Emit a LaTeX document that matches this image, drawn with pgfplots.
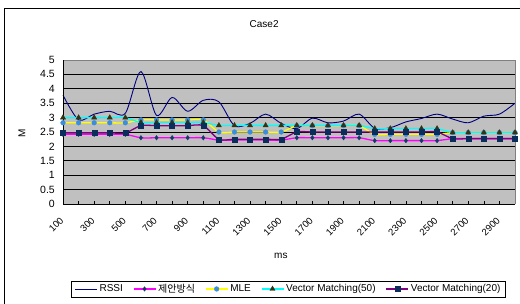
\documentclass[border=0pt]{standalone}
\usepackage{fontspec}
\setmainfont{Liberation Sans}
\newfontfamily\kr{Noto Sans CJK KR}
\usepackage{pgfplots}
\usepackage{pgfplotstable}
\pgfplotsset{compat=1.18}
\definecolor{bggray}{HTML}{C0C0C0}
\definecolor{rssic}{HTML}{000080}
\definecolor{propc}{HTML}{FF00FF}
\definecolor{propm}{HTML}{123A6A}
\definecolor{mlec}{HTML}{FFFF00}
\definecolor{mlem}{HTML}{3A8EDB}
\definecolor{vmac}{HTML}{00FFFF}
\definecolor{vmam}{HTML}{33330F}
\definecolor{vmbc}{HTML}{800080}
\definecolor{vmbm}{HTML}{0B2D5C}
\definecolor{framec}{HTML}{808080}

\pgfplotstableread{
x    rssi prop mle  vma  vmb
100  3.78 2.42 2.82 3.00 2.47
200  2.92 2.42 2.82 3.00 2.47
300  3.12 2.42 2.82 3.00 2.47
400  3.22 2.42 2.82 3.00 2.47
500  3.15 2.42 2.82 3.00 2.47
600  4.60 2.30 2.92 2.83 2.72
700  3.08 2.30 2.92 2.83 2.72
800  3.70 2.30 2.92 2.83 2.72
900  3.22 2.30 2.92 2.83 2.72
1000 3.60 2.30 2.92 2.83 2.72
1100 3.55 2.22 2.50 2.73 2.25
1200 2.72 2.22 2.50 2.73 2.25
1300 2.80 2.22 2.50 2.73 2.25
1400 3.12 2.22 2.50 2.73 2.25
1500 2.80 2.22 2.50 2.73 2.25
1600 2.62 2.30 2.72 2.73 2.50
1700 2.98 2.30 2.72 2.73 2.50
1800 2.82 2.30 2.72 2.73 2.50
1900 2.88 2.30 2.72 2.73 2.50
2000 3.12 2.30 2.72 2.73 2.50
2100 2.63 2.20 2.42 2.62 2.50
2200 2.65 2.20 2.42 2.62 2.50
2300 2.85 2.20 2.42 2.62 2.50
2400 2.97 2.20 2.42 2.62 2.50
2500 3.12 2.20 2.42 2.62 2.50
2600 2.95 2.27 2.48 2.48 2.27
2700 2.82 2.27 2.48 2.48 2.27
2800 3.05 2.27 2.48 2.48 2.27
2900 3.12 2.27 2.48 2.48 2.27
3000 3.50 2.27 2.48 2.48 2.27
}\data

\begin{document}
\begin{tikzpicture}
\useasboundingbox (0,0) rectangle (520pt,303pt);
\draw[black, line width=0.8pt] (4pt,-2pt) -- (4pt,295pt) -- (523pt,295pt);
\begin{axis}[
  at={(63pt,99pt)}, anchor=south west,
  scale only axis, width=452pt, height=144pt,
  xmin=100, xmax=3000, ymin=0, ymax=5,
  clip=false,
  axis background/.style={fill=bggray},
  axis line style={draw=none},
  ytick={0,0.5,1,1.5,2,2.5,3,3.5,4,4.5,5},
  yticklabels={0,0.5,1,1.5,2,2.5,3,3.5,4,4.5,5},
  xtick={100,300,...,2900},
  xticklabels={100,300,500,700,900,1100,1300,1500,1700,1900,2100,2300,2500,2700,2900},
  extra x ticks={200,400,...,3000},
  extra x tick labels={},
  extra x tick style={xtick style={black, line width=0.6pt}, grid=none},
  ymajorgrids, grid style={black, line width=0.7pt},
  tick align=inside, major tick length=3pt,
  xtick pos=left,
  xtick style={black, line width=0.6pt},
  ytick style={draw=none},
  yticklabel style={anchor=east, inner sep=0pt, xshift=-8pt, font=\fontsize{10.5}{12}\selectfont},
  xticklabel style={yshift=-15pt, xshift=-1pt, rotate=45, anchor=east, inner sep=0pt, font=\fontsize{9.5}{11}\selectfont},
  title={Case2},
  title style={at={(0.445,1.21)}, anchor=center, inner sep=0pt},
  xlabel={ms},
  xlabel style={at={(axis description cs:0.482,-0.36)}, anchor=center, inner sep=0pt},
  ylabel={M},
  ylabel style={at={(axis description cs:-0.0907,0.49)}, anchor=center, inner sep=0pt},
  legend columns=5,
  legend image code/.code={\draw[mark repeat=2,mark phase=2] plot coordinates {(0pt,0pt) (11pt,0pt) (22pt,0pt)};},
  legend style={at={(0.499,-0.59)}, anchor=center, draw=black, line width=0.6pt, fill=white,
    inner xsep=3pt, inner ysep=2pt,
    /tikz/every even column/.append style={column sep=8pt},
    nodes={inner xsep=2pt, inner ysep=1pt}},
]
\addplot[rssic, line width=0.9pt, smooth, no markers] table[x=x, y=rssi] {\data};
\addlegendentry{RSSI}
\addplot[propc, line width=1.3pt, smooth, mark=diamond*, mark size=2.3pt, mark options={fill=propm, draw=propm, line width=0.3pt}] table[x=x, y=prop] {\data};
\addlegendentry{{\kr 제안방식}}
\addplot[mlec, line width=1.3pt, smooth, mark=*, mark size=2.4pt, mark options={fill=mlem, draw=mlem, line width=0.3pt}] table[x=x, y=mle] {\data};
\addlegendentry{MLE}
\addplot[vmac, line width=1.3pt, smooth, mark=triangle*, mark size=3pt, mark options={fill=vmam, draw=vmam, line width=0.3pt}] table[x=x, y=vma] {\data};
\addlegendentry{Vector Matching(50)}
\addplot[vmbc, line width=1.3pt, smooth, mark=square*, mark size=2.5pt, mark options={fill=vmbm, draw=vmbm, line width=0.3pt}] table[x=x, y=vmb] {\data};
\addlegendentry{Vector Matching(20)}
\draw[framec, line width=0.8pt] (rel axis cs:0,1) -- (rel axis cs:1,1) -- (rel axis cs:1,0);
\draw[black, line width=0.8pt] (rel axis cs:0,1) -- (rel axis cs:0,0) -- (rel axis cs:1,0);
\end{axis}
\end{tikzpicture}
\end{document}
